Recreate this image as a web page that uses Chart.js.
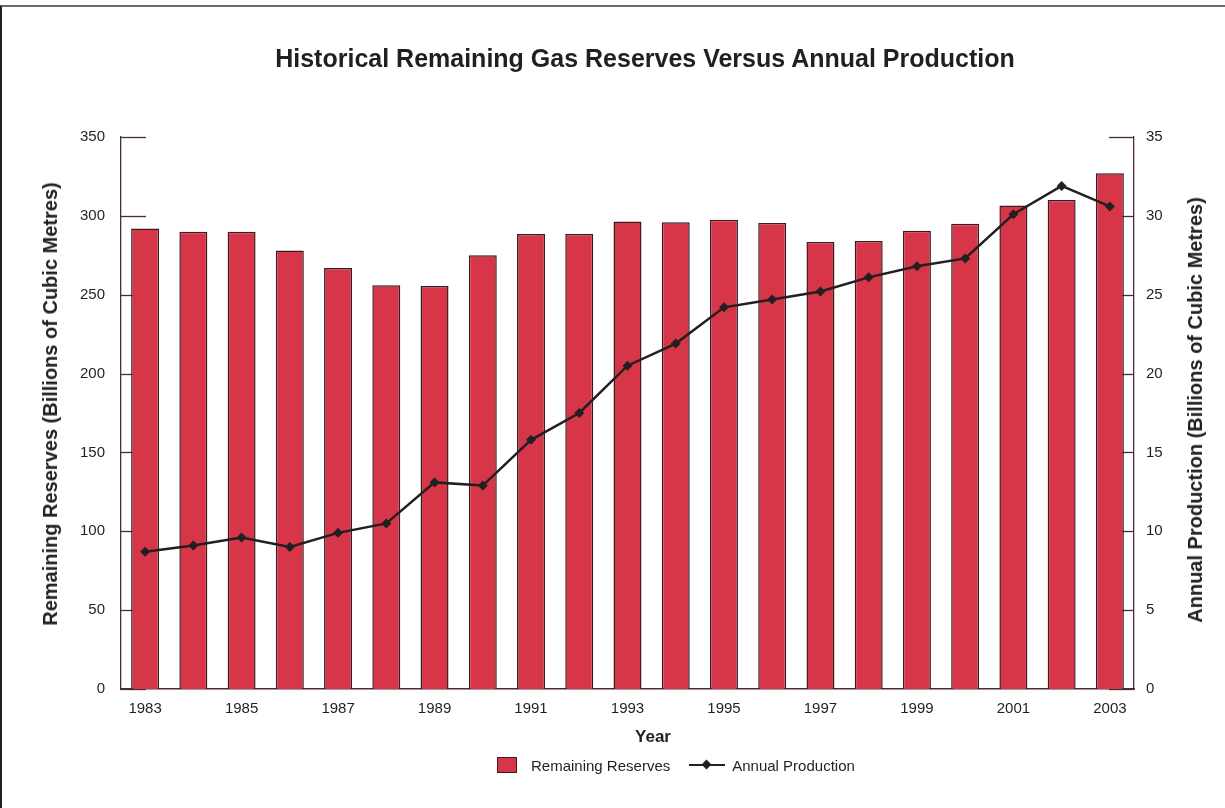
<!DOCTYPE html>
<html>
<head>
<meta charset="utf-8">
<script src="https://cdn.jsdelivr.net/npm/chart.js@4.4.1/dist/chart.umd.min.js"></script>
<style>
  html, body { margin: 0; padding: 0; background: #fff; }
  body { width: 1225px; height: 808px; position: relative; overflow: hidden; font-family: "Liberation Sans", Arial, sans-serif; color: #231f20; }
  .frame { position: absolute; left: 0; top: 5px; width: 1225px; height: 803px; border-top: 2px solid #6b6b6b; border-left: 2px solid #231f20; box-sizing: border-box; }
  canvas { position: absolute; left: 0; top: 0; }
  .txt { position: absolute; white-space: nowrap; line-height: 1; transform: translate(-50%, -50%); }
  .title { left: 645px; top: 58px; font-weight: bold; font-size: 25px; }
  .ytl { left: 50px; top: 404px; font-weight: bold; font-size: 20px; transform: translate(-50%, -50%) rotate(-90deg); }
  .ytr { left: 1195px; top: 410px; font-weight: bold; font-size: 20px; transform: translate(-50%, -50%) rotate(-90deg); }
  .xt { left: 653px; top: 736px; font-weight: bold; font-size: 17px; }
  .legend { position: absolute; left: 497px; top: 757px; height: 16px; display: flex; align-items: center; font-size: 15px; }
  .legend .box { width: 18px; height: 14px; background: #d73648; border: 1px solid #3b1a22; margin-right: 14px; }
  .legend .ln { position: relative; width: 36px; height: 2.5px; background: #231f20; margin-left: 19px; margin-right: 7px; }
  .legend .ln i { position: absolute; left: 14px; top: -3px; width: 7px; height: 7px; background: #231f20; transform: rotate(45deg); }
</style>
</head>
<body>
<div class="frame"></div>
<canvas id="c" width="1225" height="808"></canvas>
<div class="txt title">Historical Remaining Gas Reserves Versus Annual Production</div>
<div class="txt ytl">Remaining Reserves (Billions of Cubic Metres)</div>
<div class="txt ytr">Annual Production (Billions of Cubic Metres)</div>
<div class="txt xt">Year</div>
<div class="legend"><span class="box"></span><span>Remaining Reserves</span><span class="ln"><i></i></span><span>Annual Production</span></div>
<script>
const years = ['1983', '1984', '1985', '1986', '1987', '1988', '1989', '1990', '1991', '1992', '1993',
  '1994', '1995', '1996', '1997', '1998', '1999', '2000', '2001', '2002', '2003'];
const reserves = [292, 290, 290, 278, 267, 256, 255.5, 275, 288.5, 288.5, 296.5,
  296, 297.5, 295.5, 283.5, 284, 290.5, 295, 306.5, 310, 327];
const production = [8.7, 9.1, 9.6, 9.0, 9.9, 10.5, 13.1, 12.9, 15.8, 17.5, 20.5,
  21.9, 24.2, 24.7, 25.2, 26.1, 26.8, 27.3, 30.1, 31.9, 30.6];

const axisColor = '#4b2c33';
const tickFont = { family: '"Liberation Sans", Arial, sans-serif', size: 15 };

// tick marks drawn inside the plot, behind the bars
const innerTicks = {
  id: 'innerTicks',
  beforeDatasetsDraw(chart) {
    const { ctx, scales: { y, y1 } } = chart;
    ctx.save();
    ctx.strokeStyle = axisColor;
    ctx.lineWidth = 1.3;
    y.ticks.forEach((t) => {
      const py = Math.round(y.getPixelForValue(t.value)) + 0.5;
      ctx.beginPath(); ctx.moveTo(y.right, py); ctx.lineTo(y.right + 25, py); ctx.stroke();
    });
    y1.ticks.forEach((t) => {
      const py = Math.round(y1.getPixelForValue(t.value)) + 0.5;
      ctx.beginPath(); ctx.moveTo(y1.left, py); ctx.lineTo(y1.left - 25, py); ctx.stroke();
    });
    ctx.restore();
  },
};

new Chart(document.getElementById('c').getContext('2d'), {
  data: {
    labels: years,
    datasets: [
      { type: 'line', label: 'Annual Production', data: production, yAxisID: 'y1', order: 0,
        borderColor: '#231f20', backgroundColor: '#231f20', borderWidth: 2.5, tension: 0,
        pointStyle: 'rectRot', pointRadius: 5, pointBorderWidth: 0 },
      { type: 'bar', label: 'Remaining Reserves', data: reserves, yAxisID: 'y', order: 1,
        backgroundColor: '#d73648', borderColor: '#3b1a22', borderWidth: 1.5,
        categoryPercentage: 1, barPercentage: 0.58 },
    ],
  },
  options: {
    responsive: false,
    animation: false,
    layout: { padding: { top: 137, bottom: 53, left: 0, right: 0 } },
    plugins: { legend: { display: false }, title: { display: false }, tooltip: { enabled: false } },
    scales: {
      x: {
        grid: { display: false, drawTicks: false },
        border: { display: true, color: axisColor, width: 1.5 },
        ticks: { font: tickFont, color: '#231f20', padding: 11, autoSkip: false, maxRotation: 0,
          callback: (v, i) => (i % 2 === 0 ? years[i] : '') },
        afterFit: (s) => { s.height = 66; },
      },
      y: {
        position: 'left', min: 0, max: 350,
        grid: { display: false, drawTicks: false },
        border: { display: true, color: axisColor, width: 1.3 },
        ticks: { stepSize: 50, font: tickFont, color: '#231f20', padding: 16 },
        afterFit: (s) => { s.width = 121; },
      },
      y1: {
        position: 'right', min: 0, max: 35,
        grid: { display: false, drawTicks: false },
        border: { display: true, color: axisColor, width: 1.3 },
        ticks: { stepSize: 5, font: tickFont, color: '#231f20', padding: 12 },
        afterFit: (s) => { s.width = 91; },
      },
    },
  },
  plugins: [innerTicks],
});
</script>
</body>
</html>
